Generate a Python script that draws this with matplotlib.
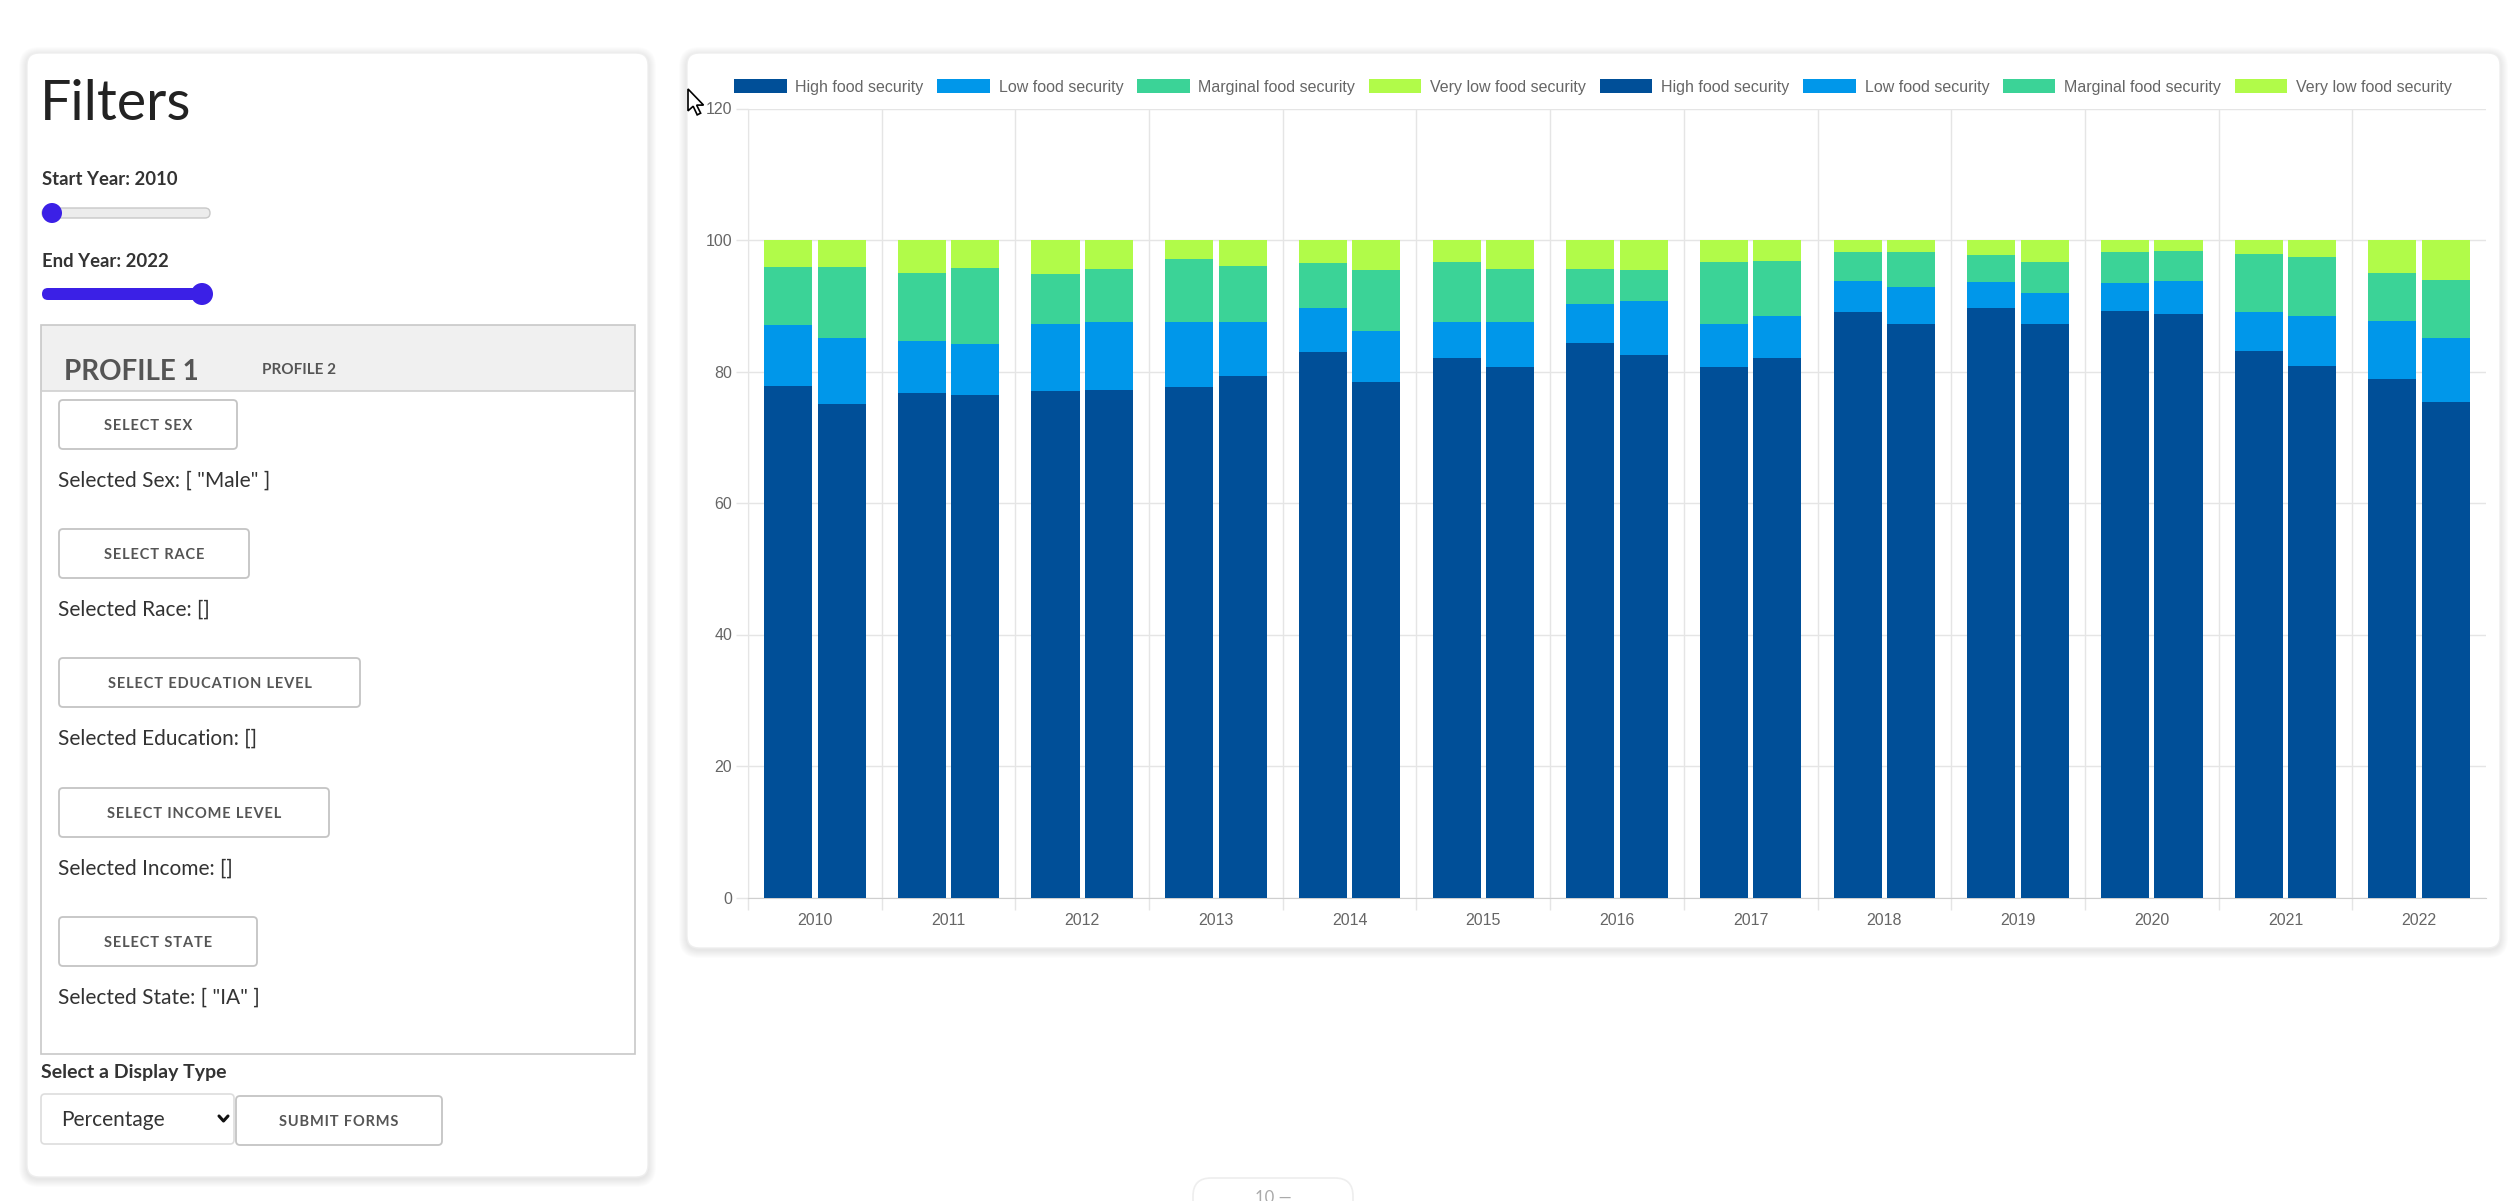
"""Food security dashboard: filter panel and stacked bar chart."""

import matplotlib
matplotlib.use('Agg')
import matplotlib.pyplot as plt
from matplotlib.patches import FancyBboxPatch, Rectangle, Circle, Polygon
import numpy as np

W, H = 2518, 1201

years = [2010, 2011, 2012, 2013, 2014, 2015, 2016,
         2017, 2018, 2019, 2020, 2021, 2022]

# profile 1 (left bar of each year), percent
p1_high = [77.8, 76.8, 77.0, 77.7, 82.9, 82.1, 84.3, 80.7, 89.0, 89.6, 89.2, 83.1, 78.9]
p1_low = [9.2, 7.9, 10.3, 9.9, 6.7, 5.4, 6.0, 6.6, 4.7, 4.0, 4.3, 5.9, 8.8]
p1_marginal = [8.9, 10.3, 7.6, 9.5, 6.9, 9.2, 5.3, 9.4, 4.5, 4.1, 4.6, 8.9, 7.3]
p1_very_low = [4.1, 5.0, 5.1, 2.9, 3.5, 3.3, 4.4, 3.3, 1.8, 2.3, 1.9, 2.1, 5.0]

# profile 2 (right bar of each year), percent
p2_high = [75.0, 76.5, 77.2, 79.3, 78.4, 80.7, 82.5, 82.1, 87.2, 87.2, 88.8, 80.9, 75.4]
p2_low = [10.1, 7.7, 10.3, 8.3, 7.8, 6.8, 8.2, 6.3, 5.6, 4.8, 4.9, 7.6, 9.7]
p2_marginal = [10.8, 11.6, 8.1, 8.5, 9.2, 8.1, 4.8, 8.4, 5.4, 4.7, 4.6, 8.9, 8.8]
p2_very_low = [4.1, 4.2, 4.4, 3.9, 4.6, 4.4, 4.5, 3.2, 1.8, 3.3, 1.7, 2.6, 6.1]

series_names = ['High food security', 'Low food security',
                'Marginal food security', 'Very low food security']
series_colors = ['#004f98', '#0097ea', '#3bd397', '#b1fb49']

y_ticks = [0, 20, 40, 60, 80, 100, 120]

sex_sel = '[ "Male" ]'
state_sel = '[ "IA" ]'

UI_FONT = ['Lato', 'DejaVu Sans']
SLIDER = '#3b20e6'

fig = plt.figure(figsize=(W / 100, H / 100), dpi=100, facecolor='white')

# full-figure axes in pixel units for the page furniture
ui = fig.add_axes([0, 0, 1, 1], zorder=0)
ui.set_xlim(0, W)
ui.set_ylim(H, 0)
ui.axis('off')


def spaced(s):
    """Fake css letter-spacing with hair spaces."""
    return '\u200a'.join(s)


def card(x0, y0, x1, y1):
    """White rounded card with a soft shadow."""
    for k in range(1, 9):
        ui.add_patch(FancyBboxPatch((x0 - k, y0 - k + 2), x1 - x0 + 2 * k, y1 - y0 + 2 * k,
                                    boxstyle='round,pad=0,rounding_size=%d' % (12 + k),
                                    fc='black', ec='none', alpha=0.012))
    ui.add_patch(FancyBboxPatch((x0, y0), x1 - x0, y1 - y0,
                                boxstyle='round,pad=0,rounding_size=12',
                                fc='white', ec='#eeeeee', lw=1))


def button(x0, y0, x1, y1, label, size=10.5):
    ui.add_patch(FancyBboxPatch((x0, y0), x1 - x0, y1 - y0,
                                boxstyle='round,pad=0,rounding_size=4',
                                fc='white', ec='#c4c4c4', lw=1.3))
    ui.text((x0 + x1) / 2, (y0 + y1) / 2 + 5.5, spaced(label), ha='center', va='baseline',
            fontsize=size, fontweight='bold', color='#555555',
            family=['Lato', 'DejaVu Sans'])


def label(x, y, s, size=15, weight='normal', color='#333333'):
    ui.text(x, y, s, ha='left', va='baseline', fontsize=size,
            fontweight=weight, color=color, family=UI_FONT)


# ---- filter panel
card(27, 53, 648, 1177)
label(40, 120, 'Filters', size=40, weight='normal', color='#222222')

label(42, 185, 'Start Year: 2010', size=13.3, weight='bold')
ui.add_patch(FancyBboxPatch((42, 208), 168, 10, boxstyle='round,pad=0,rounding_size=5',
                            fc='#ececec', ec='#c8c8c8', lw=1))
ui.add_patch(Circle((52, 213), 10, fc=SLIDER, ec='none'))

label(42, 267, 'End Year: 2022', size=13.3, weight='bold')
ui.add_patch(FancyBboxPatch((42, 288), 164, 12, boxstyle='round,pad=0,rounding_size=6',
                            fc=SLIDER, ec='none'))
ui.add_patch(Circle((202, 294), 11, fc=SLIDER, ec='none'))

# profile tabs box
ui.add_patch(Rectangle((41, 325), 594, 66, fc='#f0f0f0', ec='none'))
ui.add_patch(Rectangle((41, 325), 594, 729, fc='none', ec='#c8c8c8', lw=1.2))
ui.plot([41, 635], [391, 391], color='#d0d0d0', lw=1.2)
label(64, 380, 'PROFILE 1', size=20, weight='bold', color='#555555')
label(262, 374.5, 'PROFILE 2', size=11, weight='bold', color='#555555')

rows = [
    (400, 237, 'SELECT SEX', 'Selected Sex: ' + sex_sel),
    (529, 249, 'SELECT RACE', 'Selected Race: []'),
    (658, 360, 'SELECT EDUCATION LEVEL', 'Selected Education: []'),
    (788, 329, 'SELECT INCOME LEVEL', 'Selected Income: []'),
    (917, 257, 'SELECT STATE', 'Selected State: ' + state_sel),
]
for top, right, btn, sel in rows:
    button(59, top, right, top + 49, btn)
    label(58, top + 87, sel, size=15)

label(41, 1078, 'Select a Display Type', size=14, weight='bold')
ui.add_patch(FancyBboxPatch((41, 1094), 193, 50, boxstyle='round,pad=0,rounding_size=4',
                            fc='white', ec='#dddddd', lw=1.2))
label(61, 1126, 'Percentage', size=15)
ui.plot([219, 223.5, 228], [1116, 1121, 1116], color='#111111', lw=2.2,
        solid_capstyle='round')
button(236, 1096, 442, 1145, 'SUBMIT FORMS')

# ---- chart card
card(687, 53, 2500, 948)

# bottom toolbar pill (cut off by the screenshot edge)
ui.add_patch(FancyBboxPatch((1193, 1178), 160, 60, boxstyle='round,pad=0,rounding_size=18',
                            fc='white', ec='#eeeeee', lw=1.2))
ui.text(1273, 1203, '10 \u2014', ha='center', va='baseline', fontsize=12,
        color='#aaaaaa', family=UI_FONT)

# mouse cursor
cur = np.array([[0, 0], [0, 19], [4.5, 15], [8, 22.5], [11, 21], [7.5, 14], [13.5, 14]])
ui.add_patch(Polygon(cur * 1.15 + [688, 89], closed=True, fc='white', ec='black',
                     lw=1.2, zorder=10))

# ---- stacked bars
ax = fig.add_axes([748 / W, (H - 897.5) / H, (2486 - 748) / W, (897.5 - 108.5) / H],
                  zorder=2)
ax.patch.set_alpha(0)

x = np.arange(len(years))
bar_w = 0.36
profiles = [
    (-0.2, [p1_high, p1_low, p1_marginal, p1_very_low]),
    (0.2, [p2_high, p2_low, p2_marginal, p2_very_low]),
]
for offset, stack in profiles:
    bottom = np.zeros(len(years))
    for name, color, vals in zip(series_names, series_colors, stack):
        vals = np.array(vals)
        ax.bar(x + offset, vals, bar_w, bottom=bottom, color=color, label=name,
               zorder=3, linewidth=0)
        bottom += vals

ax.set_xlim(-0.5, len(years) - 0.5)
ax.set_ylim(0, 120)
ax.set_yticks(y_ticks)
ax.set_xticks(x, [str(y) for y in years])
ax.set_xticks(np.arange(-0.5, len(years) - 0.9, 1), minor=True)

grid_c = '#e5e5e5'
ax.tick_params(axis='x', which='major', length=0, pad=11.5, labelsize=11.5, labelcolor='#666666')
ax.tick_params(axis='x', which='minor', length=8.6, width=1, color=grid_c)
ax.tick_params(axis='y', length=8.6, width=1, color=grid_c, pad=2.9,
               labelsize=11.5, labelcolor='#666666')
for t in ax.get_xticklabels() + ax.get_yticklabels():
    t.set_family(['Liberation Sans', 'DejaVu Sans'])

ax.grid(axis='y', color=grid_c, lw=1, zorder=0)
ax.grid(axis='x', which='minor', color=grid_c, lw=1, zorder=0)
ax.set_axisbelow(True)
for side in ['top', 'right']:
    ax.spines[side].set_visible(False)
ax.spines['left'].set_color(grid_c)
ax.spines['bottom'].set_color('#cfcfcf')

handles, labels = ax.get_legend_handles_labels()
leg = fig.legend(handles, labels, loc='center', bbox_to_anchor=(1593 / W, 1 - 87 / H),
                 ncol=8, frameon=False, borderpad=0, borderaxespad=0,
                 handlelength=3.3, handleheight=0.98, handletextpad=0.56,
                 columnspacing=0.84, prop={'family': 'Liberation Sans', 'size': 11.5})
for t in leg.get_texts():
    t.set_color('#666666')

fig.savefig('out.png', dpi=100, facecolor='white')
